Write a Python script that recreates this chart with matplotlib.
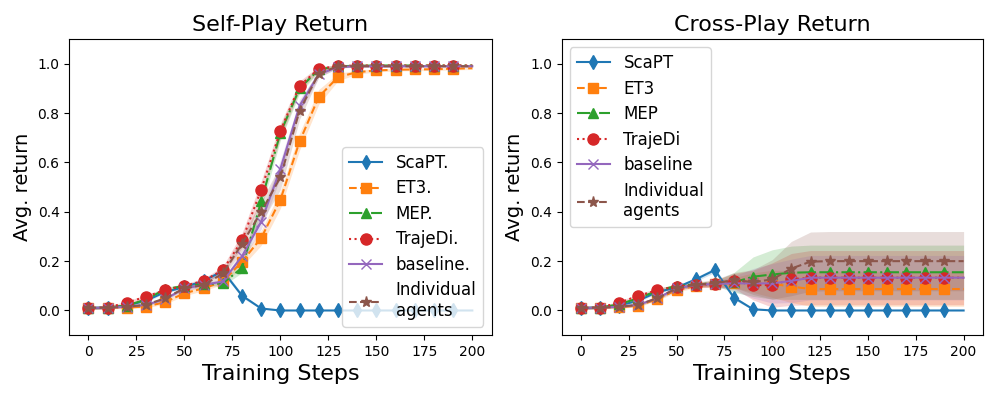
import numpy as np
import matplotlib
matplotlib.use("Agg")
import matplotlib.pyplot as plt

steps = list(range(0, 201, 10))

# ---------------- Self-play ----------------
sp_scapt = [0.01, 0.012, 0.02, 0.04, 0.075, 0.095, 0.12, 0.16, 0.06, 0.008, 0.0,
            0.0, 0.0, 0.0, 0.0, 0.0, 0.0, 0.0, 0.0, 0.0, 0.0]
sp_et3 = [0.01, 0.012, 0.012, 0.016, 0.034, 0.07, 0.09, 0.117, 0.198, 0.294, 0.449,
          0.685, 0.866, 0.946, 0.966, 0.973, 0.976, 0.977, 0.978, 0.98, 0.982]
sp_mep = [0.01, 0.012, 0.02, 0.045, 0.086, 0.1, 0.106, 0.11, 0.173, 0.442, 0.72,
          0.9, 0.977, 0.99, 0.992, 0.993, 0.993, 0.993, 0.993, 0.993, 0.993]
sp_traj = [0.01, 0.012, 0.032, 0.056, 0.083, 0.1, 0.12, 0.164, 0.284, 0.49, 0.728,
           0.91, 0.98, 0.99, 0.993, 0.993, 0.993, 0.993, 0.993, 0.993, 0.993]
sp_base = [0.01, 0.012, 0.015, 0.023, 0.046, 0.09, 0.103, 0.118, 0.22, 0.36, 0.574,
           0.83, 0.957, 0.987, 0.99, 0.99, 0.99, 0.99, 0.99, 0.99, 0.99]
sp_indiv = [0.01, 0.012, 0.015, 0.023, 0.05, 0.09, 0.103, 0.15, 0.27, 0.4, 0.54,
            0.81, 0.96, 0.99, 0.99, 0.99, 0.99, 0.99, 0.99, 0.99, 0.99]

sp_std_scapt = [0.005, 0.005, 0.005, 0.005, 0.005, 0.005, 0.008, 0.01, 0.008, 0.003, 0.0,
                0.0, 0.0, 0.0, 0.0, 0.0, 0.0, 0.0, 0.0, 0.0, 0.0]
sp_std_et3 = [0.005, 0.005, 0.005, 0.005, 0.008, 0.01, 0.01, 0.012, 0.02, 0.03, 0.035,
              0.035, 0.03, 0.015, 0.008, 0.006, 0.005, 0.005, 0.005, 0.005, 0.005]
sp_std_mep = [0.005, 0.005, 0.005, 0.006, 0.008, 0.008, 0.008, 0.01, 0.02, 0.03, 0.03,
              0.02, 0.01, 0.005, 0.004, 0.004, 0.004, 0.004, 0.004, 0.004, 0.004]
sp_std_traj = [0.005, 0.005, 0.006, 0.008, 0.008, 0.008, 0.01, 0.015, 0.03, 0.035, 0.03,
               0.02, 0.01, 0.005, 0.004, 0.004, 0.004, 0.004, 0.004, 0.004, 0.004]
sp_std_base = [0.005, 0.005, 0.005, 0.005, 0.006, 0.008, 0.008, 0.01, 0.02, 0.03, 0.035,
               0.025, 0.012, 0.005, 0.004, 0.004, 0.004, 0.004, 0.004, 0.004, 0.004]
sp_std_indiv = [0.005, 0.005, 0.005, 0.005, 0.006, 0.008, 0.01, 0.015, 0.03, 0.045, 0.05,
                0.035, 0.015, 0.006, 0.004, 0.004, 0.004, 0.004, 0.004, 0.004, 0.004]

# ---------------- Cross-play ----------------
cp_scapt = [0.01, 0.012, 0.02, 0.04, 0.075, 0.093, 0.126, 0.164, 0.052, 0.005, 0.0,
            0.0, 0.0, 0.0, 0.0, 0.0, 0.0, 0.0, 0.0, 0.0, 0.0]
cp_et3 = [0.01, 0.012, 0.013, 0.02, 0.046, 0.083, 0.1, 0.106, 0.113, 0.113, 0.108,
          0.097, 0.087, 0.087, 0.087, 0.087, 0.087, 0.087, 0.087, 0.087, 0.087]
cp_mep = [0.01, 0.012, 0.025, 0.05, 0.08, 0.1, 0.106, 0.11, 0.114, 0.137, 0.146,
          0.153, 0.155, 0.155, 0.155, 0.155, 0.155, 0.155, 0.155, 0.155, 0.155]
cp_traj = [0.01, 0.012, 0.032, 0.059, 0.083, 0.097, 0.103, 0.108, 0.12, 0.103, 0.103,
           0.126, 0.133, 0.133, 0.133, 0.133, 0.133, 0.133, 0.133, 0.133, 0.133]
cp_base = [0.01, 0.012, 0.015, 0.023, 0.05, 0.09, 0.103, 0.108, 0.11, 0.11, 0.11,
           0.12, 0.133, 0.133, 0.133, 0.133, 0.133, 0.133, 0.133, 0.133, 0.133]
cp_indiv = [0.01, 0.012, 0.015, 0.023, 0.05, 0.09, 0.105, 0.11, 0.124, 0.115, 0.126,
            0.17, 0.198, 0.2, 0.2, 0.2, 0.2, 0.2, 0.2, 0.2, 0.2]

cp_std_scapt = [0.005, 0.005, 0.005, 0.005, 0.005, 0.005, 0.008, 0.01, 0.008, 0.003, 0.0,
                0.0, 0.0, 0.0, 0.0, 0.0, 0.0, 0.0, 0.0, 0.0, 0.0]
cp_std_et3 = [0.005, 0.005, 0.005, 0.005, 0.006, 0.008, 0.008, 0.01, 0.02, 0.04, 0.055,
              0.065, 0.07, 0.07, 0.07, 0.07, 0.07, 0.07, 0.07, 0.07, 0.07]
cp_std_mep = [0.005, 0.005, 0.005, 0.006, 0.008, 0.008, 0.008, 0.01, 0.04, 0.08, 0.1,
              0.108, 0.11, 0.11, 0.11, 0.11, 0.11, 0.11, 0.11, 0.11, 0.11]
cp_std_traj = [0.005, 0.005, 0.006, 0.008, 0.008, 0.008, 0.01, 0.015, 0.03, 0.06, 0.09,
               0.105, 0.11, 0.11, 0.11, 0.11, 0.11, 0.11, 0.11, 0.11, 0.11]
cp_std_base = [0.005, 0.005, 0.005, 0.005, 0.006, 0.008, 0.008, 0.01, 0.03, 0.06, 0.08,
               0.088, 0.09, 0.09, 0.09, 0.09, 0.09, 0.09, 0.09, 0.09, 0.09]
cp_std_indiv = [0.005, 0.005, 0.005, 0.005, 0.006, 0.008, 0.01, 0.015, 0.03, 0.05, 0.08,
                0.11, 0.12, 0.12, 0.12, 0.12, 0.12, 0.12, 0.12, 0.12, 0.12]

sp_labels = ["ScaPT.", "ET3.", "MEP.", "TrajeDi.", "baseline.", "Individual\nagents"]
cp_labels = ["ScaPT", "ET3", "MEP", "TrajeDi", "baseline", "Individual\nagents"]

x_ticks = [0, 25, 50, 75, 100, 125, 150, 175, 200]
y_ticks = [0.0, 0.2, 0.4, 0.6, 0.8, 1.0]

colors = ["#1f77b4", "#ff7f0e", "#2ca02c", "#d62728", "#9467bd", "#8c564b"]
markers = ["d", "s", "^", "o", "x", "*"]
lstyles = ["-", "--", "-.", ":", "-", "--"]

fig = plt.figure(figsize=(9.97, 3.99), dpi=100)
ax1 = fig.add_axes([0.0695, 0.160, 0.4235, 0.742])
ax2 = fig.add_axes([0.5634, 0.160, 0.4223, 0.742])


def draw(ax, series, stds, labels, title, loc):
    x = np.array(steps)
    for i, (s, sd) in enumerate(zip(series, stds)):
        s = np.array(s)
        sd = np.array(sd)
        ax.fill_between(x, s - sd, s + sd, color=colors[i], alpha=0.2, linewidth=0)
        ax.plot(x, s, color=colors[i], linestyle=lstyles[i], marker=markers[i],
                markersize=8 if markers[i] in ("*", "o") else 7, linewidth=1.5,
                markevery=slice(0, len(x) - 1), label=labels[i])
    ax.set_xlim(-10, 210)
    ax.set_ylim(-0.1, 1.1)
    ax.set_xticks(x_ticks)
    ax.set_yticks(y_ticks)
    ax.tick_params(labelsize=10)
    ax.set_title(title, fontsize=16)
    ax.set_xlabel("Training Steps", fontsize=16)
    ax.set_ylabel("Avg. return", fontsize=14)
    ax.legend(loc=loc, fontsize=12, handlelength=2.0, labelspacing=0.45)


draw(ax1, [sp_scapt, sp_et3, sp_mep, sp_traj, sp_base, sp_indiv],
     [sp_std_scapt, sp_std_et3, sp_std_mep, sp_std_traj, sp_std_base, sp_std_indiv],
     sp_labels, "Self-Play Return", "lower right")
draw(ax2, [cp_scapt, cp_et3, cp_mep, cp_traj, cp_base, cp_indiv],
     [cp_std_scapt, cp_std_et3, cp_std_mep, cp_std_traj, cp_std_base, cp_std_indiv],
     cp_labels, "Cross-Play Return", "upper left")

fig.savefig("out.png", dpi=100)
